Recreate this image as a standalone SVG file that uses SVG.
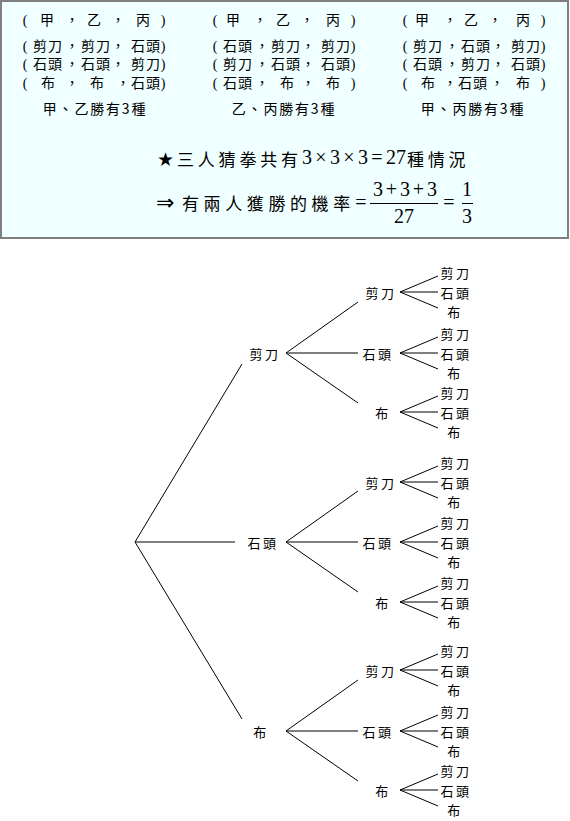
<svg xmlns="http://www.w3.org/2000/svg" width="570" height="821" viewBox="0 0 570 821">
<style>
.bx{font-family:"Liberation Serif","Noto Sans CJK TC",serif;font-size:14px;text-anchor:middle;dominant-baseline:central;fill:#000}
.cap{font-family:"Noto Sans CJK TC",sans-serif;font-size:14px;text-anchor:middle;dominant-baseline:central;letter-spacing:1.8px;fill:#000}
.cj{font-family:"Noto Sans CJK TC",sans-serif;font-size:17px;fill:#000}
.m{font-family:"Liberation Serif",serif;font-size:20px;text-anchor:middle;fill:#000}
.sym{font-family:"DejaVu Sans",sans-serif;fill:#000}
.t{font-family:"Noto Sans CJK TC",sans-serif;font-size:13px;text-anchor:middle;dominant-baseline:central;letter-spacing:2.5px;fill:#000}
.ln{stroke:#000;stroke-width:1;fill:none}
</style>
<rect x="1" y="1" width="567" height="237" fill="#F0FFFF" stroke="#7F7F7F" stroke-width="2"/>
<g id="col-left">
<text class="bx" x="25 47 72 94 118 143 163" y="20">(甲，乙，丙)</text>
<text class="bx" x="25 40 55 72 88 103 118 138 153 163" y="46">(剪刀，剪刀，石頭)</text>
<text class="bx" x="25 40 55 72 88 103 118 138 153 163" y="64.5">(石頭，石頭，剪刀)</text>
<text class="bx" x="25 48 72 97 123 138 153 163" y="83">(布，布，石頭)</text>
<text class="cap" x="95" y="108">甲、乙勝有3種</text>
</g>
<g id="col-mid">
<text class="bx" x="215 233 260 283 307 333 353" y="20">(甲，乙，丙)</text>
<text class="bx" x="215 230 245 262 278 293 308 328 343 353" y="46">(石頭，剪刀，剪刀)</text>
<text class="bx" x="215 230 245 262 278 293 308 328 343 353" y="64.5">(剪刀，石頭，石頭)</text>
<text class="bx" x="215 230 245 262 287 308 333 353" y="83">(石頭，布，布)</text>
<text class="cap" x="284" y="108">乙、丙勝有3種</text>
</g>
<g id="col-right">
<text class="bx" x="405 422 450 471 495 523 543" y="20">(甲，乙，丙)</text>
<text class="bx" x="405 420 435 452 468 483 498 518 533 543" y="46">(剪刀，石頭，剪刀)</text>
<text class="bx" x="405 420 435 452 468 483 498 518 533 543" y="64.5">(石頭，剪刀，石頭)</text>
<text class="bx" x="405 428 450 465 480 497 523 543" y="83">(布，石頭，布)</text>
<text class="cap" x="473" y="108">甲、丙勝有3種</text>
</g>
<g id="formula">
<text class="sym" x="157" y="166" font-size="19">★</text>
<text class="cj" x="177" y="166" letter-spacing="3.8">三人猜拳共有</text>
<text class="m" x="307 321 335 349 363 377 391 401" y="164">3×3×3=27</text>
<text class="cj" x="407" y="166" letter-spacing="3.8">種情況</text>
<text class="sym" x="156" y="210" font-size="22">⇒</text>
<text class="cj" x="182" y="210" letter-spacing="4.6">有兩人獲勝的機率</text>
<text class="m" x="361" y="209">=</text>
<line x1="370" y1="203.5" x2="438" y2="203.5" stroke="#000" stroke-width="1"/>
<text class="m" x="378 391.5 405 418.5 432" y="196">3+3+3</text>
<text class="m" x="404" y="223">27</text>
<text class="m" x="449" y="209">=</text>
<line x1="462" y1="203.5" x2="473" y2="203.5" stroke="#000" stroke-width="1"/>
<text class="m" x="467" y="196">1</text>
<text class="m" x="467" y="223">3</text>
</g>
<g id="connectors" class="ln">
<path class="ln" d="M135 542L242 364M135 542L235 542M135 542L242 719"/>
<path class="ln" d="M286 353L358 302M286 353L358 353M286 353L358 403"/>
<path class="ln" d="M286 542L358 491M286 542L358 542M286 542L358 592"/>
<path class="ln" d="M286 731L358 680M286 731L358 731M286 731L358 781"/>
<path class="ln" d="M400 292L438 276M400 292L438 292M400 292L438 308"/>
<path class="ln" d="M400 353L438 337M400 353L438 353M400 353L438 369"/>
<path class="ln" d="M400 412L438 396M400 412L438 412M400 412L438 428"/>
<path class="ln" d="M400 482L438 466M400 482L438 482M400 482L438 498"/>
<path class="ln" d="M400 542L438 526M400 542L438 542M400 542L438 558"/>
<path class="ln" d="M400 602L438 586M400 602L438 602M400 602L438 618"/>
<path class="ln" d="M400 670L438 654M400 670L438 670M400 670L438 686"/>
<path class="ln" d="M400 731L438 715M400 731L438 731M400 731L438 747"/>
<path class="ln" d="M400 790L438 774M400 790L438 790M400 790L438 806"/>
</g>
<g id="n1"><text class="t" x="265" y="353">剪刀</text></g>
<g id="n2"><text class="t" x="263" y="542">石頭</text></g>
<g id="n3"><text class="t" x="261" y="731">布</text></g>
<g id="n1a"><text class="t" x="381" y="292">剪刀</text></g>
<g id="n1b"><text class="t" x="378" y="353">石頭</text></g>
<g id="n1c"><text class="t" x="383" y="412">布</text></g>
<g id="n2a"><text class="t" x="381" y="482">剪刀</text></g>
<g id="n2b"><text class="t" x="378" y="542">石頭</text></g>
<g id="n2c"><text class="t" x="383" y="602">布</text></g>
<g id="n3a"><text class="t" x="381" y="670">剪刀</text></g>
<g id="n3b"><text class="t" x="378" y="731">石頭</text></g>
<g id="n3c"><text class="t" x="383" y="790">布</text></g>
<g id="l1a"><text class="t" x="456" y="272.5">剪刀</text><text class="t" x="456" y="292">石頭</text><text class="t" x="455" y="311">布</text></g>
<g id="l1b"><text class="t" x="456" y="333.5">剪刀</text><text class="t" x="456" y="353">石頭</text><text class="t" x="455" y="372">布</text></g>
<g id="l1c"><text class="t" x="456" y="392.5">剪刀</text><text class="t" x="456" y="412">石頭</text><text class="t" x="455" y="431">布</text></g>
<g id="l2a"><text class="t" x="456" y="462.5">剪刀</text><text class="t" x="456" y="482">石頭</text><text class="t" x="455" y="501">布</text></g>
<g id="l2b"><text class="t" x="456" y="522.5">剪刀</text><text class="t" x="456" y="542">石頭</text><text class="t" x="455" y="561">布</text></g>
<g id="l2c"><text class="t" x="456" y="582.5">剪刀</text><text class="t" x="456" y="602">石頭</text><text class="t" x="455" y="621">布</text></g>
<g id="l3a"><text class="t" x="456" y="650.5">剪刀</text><text class="t" x="456" y="670">石頭</text><text class="t" x="455" y="689">布</text></g>
<g id="l3b"><text class="t" x="456" y="711.5">剪刀</text><text class="t" x="456" y="731">石頭</text><text class="t" x="455" y="750">布</text></g>
<g id="l3c"><text class="t" x="456" y="770.5">剪刀</text><text class="t" x="456" y="790">石頭</text><text class="t" x="455" y="809">布</text></g>
</svg>
